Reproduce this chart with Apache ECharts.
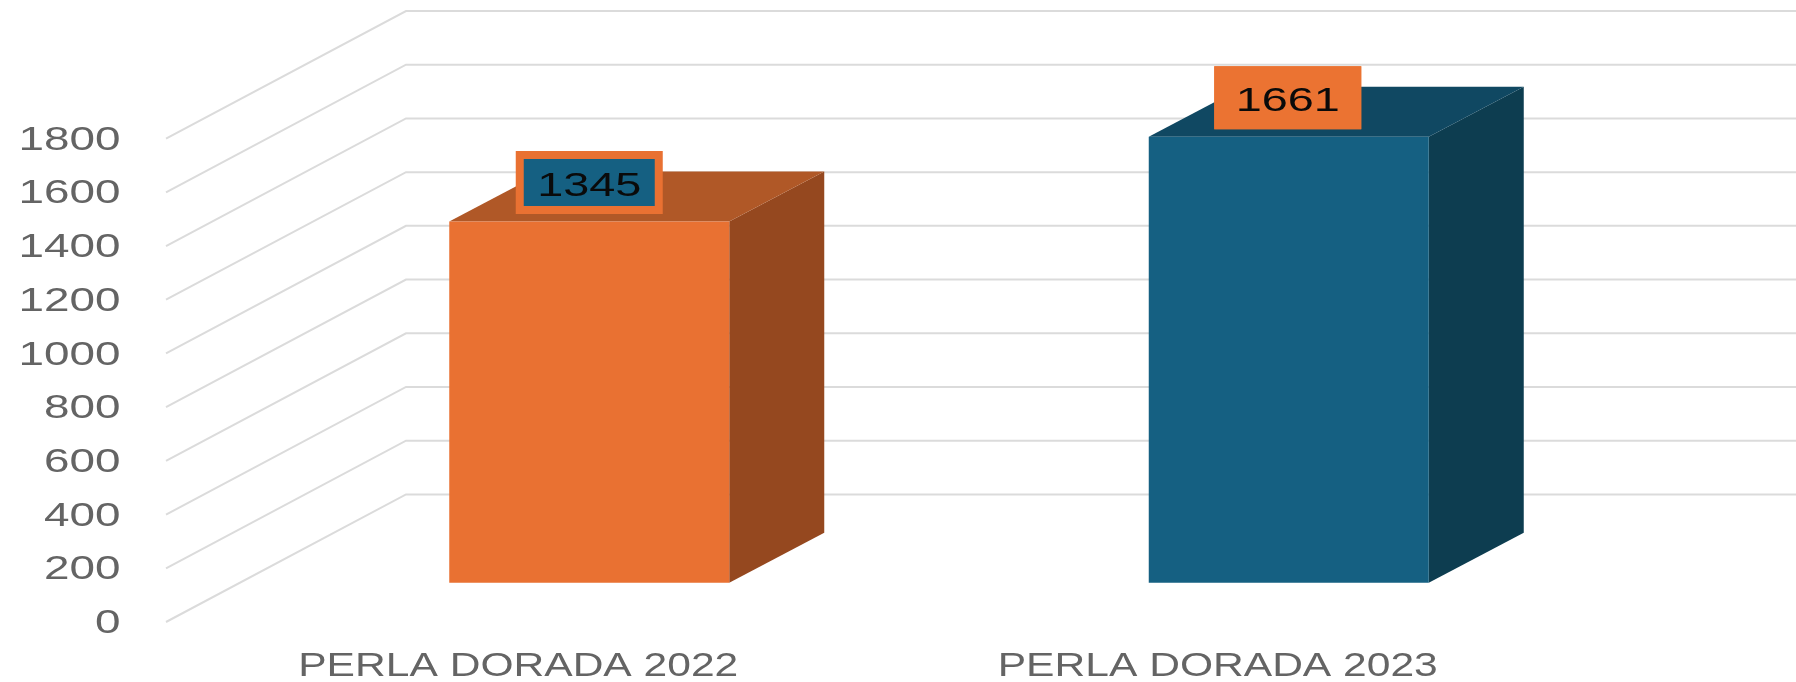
<!DOCTYPE html>
<html>
<head>
<meta charset="utf-8">
<style>html,body{margin:0;padding:0;background:#fff}#c{width:1796px;height:682px;filter:blur(0.5px)}</style>
<script src="https://cdn.jsdelivr.net/npm/echarts@6/dist/echarts.min.js"></script>
</head>
<body>
<div id="c"></div>
<script>
const categories = ['PERLA DORADA 2022', 'PERLA DORADA 2023'];
const values = [1345, 1661];
const valueTicks = [0, 200, 400, 600, 800, 1000, 1200, 1400, 1600, 1800];
const frontColors = ['#E97132', '#156082'];
const topColors = ['#B05827', '#104862'];
const sideColors = ['#95481F', '#0D3D50'];
const labelFills = ['#156082', '#EB7332'];
const labelBorders = ['#E97132', '#EB7332'];

// oblique projection constants
const WALL = [240, -127.6], BAR_OFFSET = [72, -39.3], BAR_DEPTH = [95, -50], BAR_W = 280;
const FONT = '"Liberation Sans", Arial, sans-serif';
const GRID_COLOR = '#DBDBDB', TEXT_COLOR = '#646464';

function stretched(x, y, text, size, sx, fill, align) {
  return { type: 'text', x, y, scaleX: sx, silent: true,
    style: { text, fill, fontSize: size, fontFamily: FONT, align, verticalAlign: 'middle' } };
}

const chart = echarts.init(document.getElementById('c'));
chart.setOption({
  animation: false,
  backgroundColor: '#fff',
  grid: { left: 167.5, right: 229.5, top: 138.6, bottom: 60 },
  xAxis: { type: 'category', data: categories, axisLine: { show: false }, axisTick: { show: false }, axisLabel: { show: false } },
  yAxis: { type: 'value', min: 0, max: 1800, interval: 200, splitLine: { show: false }, axisLine: { show: false }, axisTick: { show: false }, axisLabel: { show: false } },
  series: [
    { // walls + value-axis labels
      type: 'custom', silent: true, clip: false, z: 1,
      data: valueTicks.map(v => [0, v]),
      encode: { x: 0, y: 1 },
      renderItem(params, api) {
        const c = api.coord([0, api.value(1)]);
        const band = api.size([1, 0])[0];
        const x0 = c[0] - band / 2 - 1.5, y = c[1];
        const bx = x0 + WALL[0], by = y + WALL[1];
        return { type: 'group', children: [
          { type: 'polyline', shape: { points: [[x0, y], [bx, by], [x0 + WALL[0] + band * 2, by]] },
            style: { stroke: GRID_COLOR, lineWidth: 2, fill: null } },
          stretched(c[0] - band / 2 - 47, y + 2, String(api.value(1)), 33, 1.39, TEXT_COLOR, 'right')
        ] };
      }
    },
    { // bars + data labels + category labels
      type: 'custom', silent: true, clip: false, z: 2,
      data: values.map((v, i) => [i, v]),
      encode: { x: 0, y: 1 },
      renderItem(params, api) {
        const i = api.value(0), v = api.value(1);
        const top = api.coord([i, v]), base = api.coord([i, 0]);
        const cx = top[0] + BAR_OFFSET[0];
        const l = cx - BAR_W / 2, r = cx + BAR_W / 2;
        const t = top[1] + BAR_OFFSET[1], b = base[1] + BAR_OFFSET[1];
        const dx = BAR_DEPTH[0], dy = BAR_DEPTH[1];
        const labelW = 147, labelH = 63, bw = labelFills[i] === labelBorders[i] ? 0 : 8;
        const ly = t - 39, lx = cx - i;
        return { type: 'group', children: [
          { type: 'polygon', shape: { points: [[r, t], [r + dx, t + dy], [r + dx, b + dy], [r, b]] }, style: { fill: sideColors[i] } },
          { type: 'polygon', shape: { points: [[l, t], [l + dx, t + dy], [r + dx, t + dy], [r, t]] }, style: { fill: topColors[i] } },
          { type: 'rect', shape: { x: l, y: t, width: BAR_W, height: b - t }, style: { fill: frontColors[i] } },
          { type: 'rect', shape: { x: lx - labelW / 2, y: ly - labelH / 2, width: labelW, height: labelH }, style: { fill: labelBorders[i] } },
          { type: 'rect', shape: { x: lx - labelW / 2 + bw, y: ly - labelH / 2 + bw, width: labelW - 2 * bw, height: labelH - 2 * bw }, style: { fill: labelFills[i] } },
          stretched(lx, ly + 4, String(v), 33, 1.42, '#0A0A0A', 'center'),
          stretched(top[0] + 1, base[1] + 45, categories[i], 33, 1.29, TEXT_COLOR, 'center')
        ] };
      }
    }
  ]
});
</script>
</body>
</html>
